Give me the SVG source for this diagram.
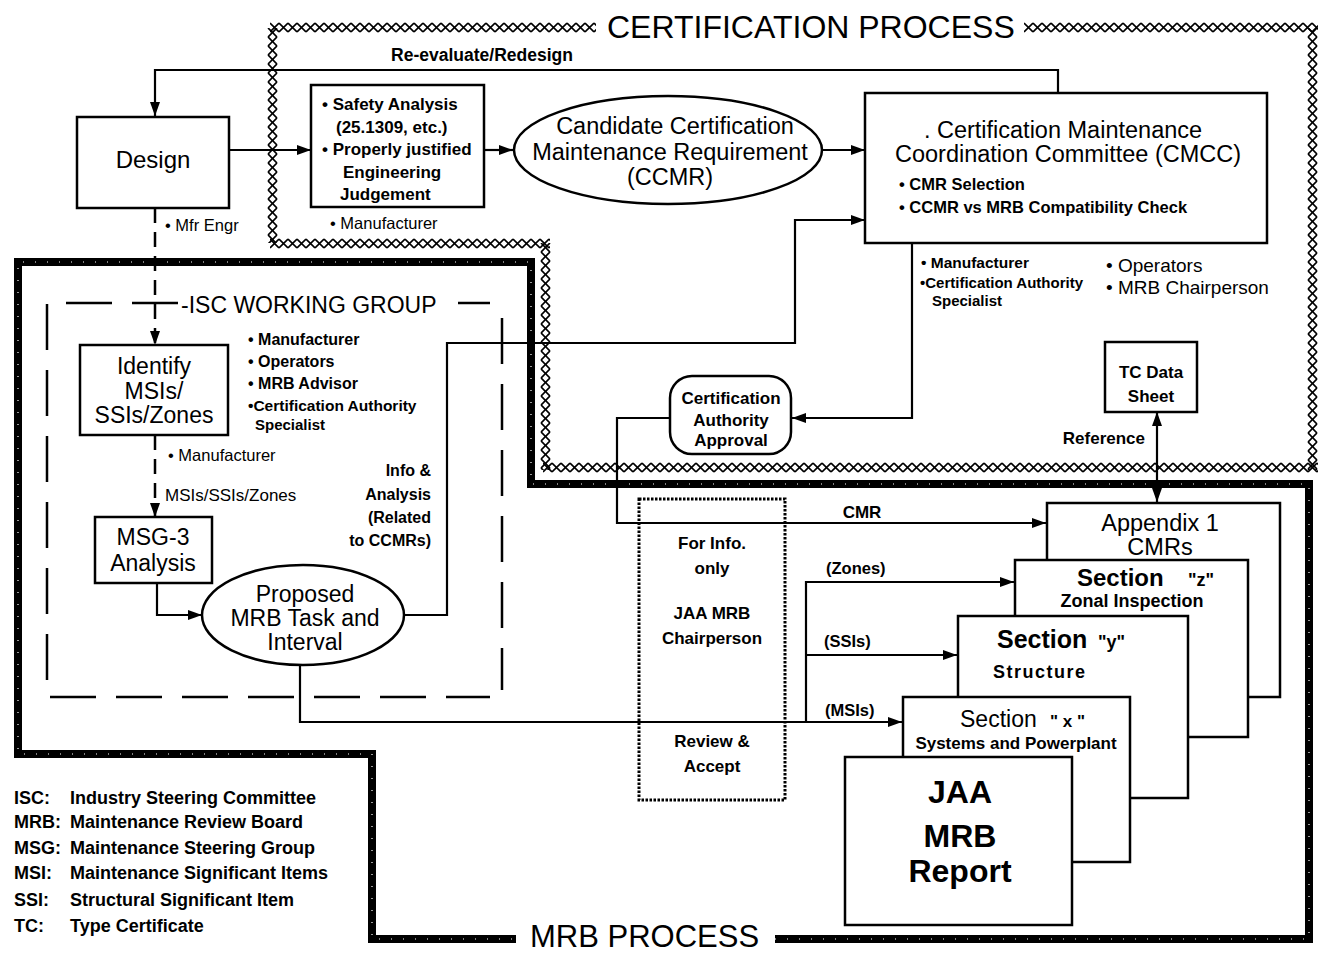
<svg xmlns="http://www.w3.org/2000/svg" width="1325" height="953" viewBox="0 0 1325 953">
<style>
text { font-family: "Liberation Sans", Arial, sans-serif; fill: #000; }
.b { font-weight: bold; }
.m { text-anchor: middle; }
.e { text-anchor: end; }
.box { fill: #fff; stroke: #000; stroke-width: 2.5; }
.ln { fill: none; stroke: #000; stroke-width: 2.2; }
.dash { fill: none; stroke: #000; stroke-width: 2.5; stroke-dasharray: 15 9; }
.isc { fill: none; stroke: #000; stroke-width: 2.5; stroke-dasharray: 46 20; }
.wavy { fill: none; stroke: #000; stroke-width: 3; stroke-dasharray: 2.5 1.5; }
.mrb { fill: none; stroke: #000; stroke-width: 8; }
.speck { fill: none; stroke: #fff; stroke-width: 1.2; stroke-dasharray: 1 11; }
</style>
<defs>
<pattern id="xx" patternUnits="userSpaceOnUse" width="9" height="11">
<path d="M0,1 L9,10 M0,10 L9,1" stroke="#000" stroke-width="1.7" fill="none"/>
</pattern>
<marker id="ah" markerWidth="14" markerHeight="10" refX="14" refY="5" orient="auto-start-reverse" markerUnits="userSpaceOnUse">
<path d="M0,0 L14,5 L0,10 z" fill="#000"/>
</marker>
</defs>
<rect width="1325" height="953" fill="#fff"/>

<g id="certification-border">
<rect transform="translate(270,22)" width="326" height="11" fill="url(#xx)"/>
<rect transform="translate(1024,22)" width="294" height="11" fill="url(#xx)"/>
<rect transform="translate(1318,28) rotate(90)" width="442" height="11" fill="url(#xx)"/>
<rect transform="translate(543,462)" width="775" height="11" fill="url(#xx)"/>
<rect transform="translate(551,243) rotate(90)" width="227" height="11" fill="url(#xx)"/>
<rect transform="translate(270,238)" width="280" height="11" fill="url(#xx)"/>
<rect transform="translate(278,28) rotate(90)" width="215" height="11" fill="url(#xx)"/>
<text x="607" y="38" font-size="32">CERTIFICATION PROCESS</text>
</g>

<g id="mrb-border">
<path class="mrb" d="M775,939 H1309 V484 H531 V262 H18 V754 H372 V939 H516"/>
<path class="speck" d="M775,939 H1309 V484 H531 V262 H18 V754 H372 V939 H516"/>
<text x="530" y="947" font-size="31">MRB PROCESS</text>
</g>

<g id="isc-group">
<path class="isc" d="M178,303 H47 V697 H490"/>
<path class="isc" d="M502,318 V690"/>
<line x1="458" y1="303" x2="490" y2="303" stroke="#000" stroke-width="2.5"/>
<text x="181" y="313" font-size="23">-ISC WORKING GROUP</text>
</g>

<g id="connectors">
<path class="ln" d="M1058,93 V70 H155 V116" marker-end="url(#ah)"/>
<path class="ln" d="M229,150 H311" marker-end="url(#ah)"/>
<path class="ln" d="M484,150 H513" marker-end="url(#ah)"/>
<path class="ln" d="M822,150 H865" marker-end="url(#ah)"/>
<path class="ln" d="M403,615 H447 V343 H795 V220 H865" marker-end="url(#ah)"/>
<path class="ln" d="M912,243 V418 H792" marker-end="url(#ah)"/>
<path class="ln" d="M670,418 H617 V523 H1046" marker-end="url(#ah)"/>
<path class="ln" d="M1157,412 V502" marker-start="url(#ah)" marker-end="url(#ah)"/>
<path class="dash" d="M155,208 V345" marker-end="url(#ah)"/>
<path class="dash" d="M155,435 V517" marker-end="url(#ah)"/>
<path class="ln" d="M157,583 V615 H202" marker-end="url(#ah)"/>
<path class="ln" d="M300,665 V722 H902" marker-end="url(#ah)"/>
<path class="ln" d="M806,722 V582 H1014" marker-end="url(#ah)"/>
<path class="ln" d="M806,655 H957" marker-end="url(#ah)"/>
<text x="482" y="61" font-size="17.5" class="b m">Re-evaluate/Redesign</text>
<text x="165" y="231" font-size="16.5">• Mfr Engr</text>
<text x="168" y="461" font-size="16.5">• Manufacturer</text>
<text x="165" y="501" font-size="17">MSIs/SSIs/Zones</text>
<text x="431" y="476" font-size="16" class="b e">Info &amp;</text>
<text x="431" y="500" font-size="16" class="b e">Analysis</text>
<text x="431" y="523" font-size="16" class="b e">(Related</text>
<text x="431" y="546" font-size="16" class="b e">to CCMRs)</text>
<text x="862" y="518" font-size="17" class="b m">CMR</text>
<text x="826" y="574" font-size="16.5" class="b">(Zones)</text>
<text x="824" y="647" font-size="16.5" class="b">(SSIs)</text>
<text x="825" y="716" font-size="16.5" class="b">(MSIs)</text>
<text x="1145" y="444" font-size="17" class="b e">Reference</text>
</g>

<g id="design">
<rect class="box" x="77" y="117" width="152" height="91"/>
<text x="153" y="168" font-size="24" class="m">Design</text>
</g>

<g id="safety-analysis">
<rect class="box" x="311" y="85" width="173" height="122"/>
<text x="322" y="110" font-size="17" class="b">• Safety Analysis</text>
<text x="336" y="133" font-size="17" class="b">(25.1309, etc.)</text>
<text x="322" y="155" font-size="17" class="b">• Properly justified</text>
<text x="343" y="178" font-size="17" class="b">Engineering</text>
<text x="340" y="200" font-size="17" class="b">Judgement</text>
<text x="330" y="229" font-size="16.5">• Manufacturer</text>
</g>

<g id="ccmr">
<ellipse cx="668" cy="150" rx="154" ry="54" fill="#fff" stroke="#000" stroke-width="2.5"/>
<text x="675" y="134" font-size="23.5" class="m">Candidate Certification</text>
<text x="670" y="160" font-size="23.5" class="m">Maintenance Requirement</text>
<text x="670" y="185" font-size="23.5" class="m">(CCMR)</text>
</g>

<g id="cmcc">
<rect class="box" x="865" y="93" width="402" height="150"/>
<text x="1063" y="138" font-size="23.5" class="m">. Certification Maintenance</text>
<text x="1068" y="162" font-size="23.5" class="m">Coordination Committee (CMCC)</text>
<text x="899" y="190" font-size="16.5" class="b">• CMR Selection</text>
<text x="899" y="213" font-size="16.5" class="b">• CCMR vs MRB Compatibility Check</text>
<text x="921" y="268" font-size="15.5" class="b">• Manufacturer</text>
<text x="920" y="288" font-size="15" class="b">•Certification Authority</text>
<text x="932" y="306" font-size="15" class="b">Specialist</text>
<text x="1106" y="272" font-size="19">• Operators</text>
<text x="1106" y="294" font-size="19">• MRB Chairperson</text>
</g>

<g id="ca-approval">
<rect class="box" x="670" y="376" width="121" height="78" rx="22"/>
<text x="731" y="404" font-size="17" class="b m">Certification</text>
<text x="731" y="426" font-size="17" class="b m">Authority</text>
<text x="731" y="446" font-size="17" class="b m">Approval</text>
</g>

<g id="tc-data-sheet">
<rect class="box" x="1105" y="342" width="92" height="70"/>
<text x="1151" y="378" font-size="17" class="b m">TC Data</text>
<text x="1151" y="402" font-size="17" class="b m">Sheet</text>
</g>

<g id="identify">
<rect class="box" x="80" y="345" width="148" height="90"/>
<text x="154" y="374" font-size="23" class="m">Identify</text>
<text x="154" y="399" font-size="23" class="m">MSIs/</text>
<text x="154" y="423" font-size="23" class="m">SSIs/Zones</text>
<text x="248" y="345" font-size="16" class="b">• Manufacturer</text>
<text x="248" y="367" font-size="16" class="b">• Operators</text>
<text x="248" y="389" font-size="16" class="b">• MRB Advisor</text>
<text x="248" y="411" font-size="15.5" class="b">•Certification Authority</text>
<text x="255" y="430" font-size="15" class="b">Specialist</text>
</g>

<g id="msg3">
<rect class="box" x="95" y="517" width="117" height="66"/>
<text x="153" y="545" font-size="23" class="m">MSG-3</text>
<text x="153" y="571" font-size="23" class="m">Analysis</text>
</g>

<g id="proposed">
<ellipse cx="303" cy="615" rx="101" ry="50" fill="#fff" stroke="#000" stroke-width="2.5"/>
<text x="305" y="602" font-size="23" class="m">Proposed</text>
<text x="305" y="626" font-size="23" class="m">MRB Task and</text>
<text x="305" y="650" font-size="23" class="m">Interval</text>
</g>

<g id="for-info">
<rect class="wavy" x="639" y="499" width="146" height="301"/>
<text x="712" y="549" font-size="17" class="b m">For Info.</text>
<text x="712" y="574" font-size="17" class="b m">only</text>
<text x="712" y="619" font-size="17" class="b m">JAA MRB</text>
<text x="712" y="644" font-size="17" class="b m">Chairperson</text>
<text x="712" y="747" font-size="17" class="b m">Review &amp;</text>
<text x="712" y="772" font-size="17" class="b m">Accept</text>
</g>

<g id="appendix-1">
<rect class="box" x="1047" y="503" width="233" height="194"/>
<text x="1160" y="531" font-size="23.5" class="m">Appendix 1</text>
<text x="1160" y="555" font-size="23.5" class="m">CMRs</text>
</g>

<g id="section-z">
<rect class="box" x="1015" y="560" width="233" height="177"/>
<text x="1077" y="586" font-size="24" class="b">Section</text>
<text x="1188" y="586" font-size="18" class="b">"z"</text>
<text x="1132" y="607" font-size="18" class="b m">Zonal Inspection</text>
</g>

<g id="section-y">
<rect class="box" x="958" y="616" width="230" height="182"/>
<text x="997" y="648" font-size="25" class="b">Section</text>
<text x="1098" y="648" font-size="18" class="b">"y"</text>
<text x="993" y="678" font-size="18" class="b" letter-spacing="1.5">Structure</text>
</g>

<g id="section-x">
<rect class="box" x="903" y="697" width="227" height="165"/>
<text x="960" y="727" font-size="23">Section</text>
<text x="1050" y="727" font-size="17" class="b">" x "</text>
<text x="1016" y="749" font-size="17" class="b m">Systems and Powerplant</text>
</g>

<g id="jaa-mrb-report">
<rect class="box" x="845" y="757" width="227" height="168"/>
<text x="960" y="803" font-size="32" class="b m">JAA</text>
<text x="960" y="847" font-size="32" class="b m">MRB</text>
<text x="960" y="882" font-size="32" class="b m">Report</text>
</g>

<g id="legend">
<text x="14" y="804" font-size="18" class="b">ISC:</text>
<text x="70" y="804" font-size="18" class="b">Industry Steering Committee</text>
<text x="14" y="828" font-size="18" class="b">MRB:</text>
<text x="70" y="828" font-size="18" class="b">Maintenance Review Board</text>
<text x="14" y="854" font-size="18" class="b">MSG:</text>
<text x="70" y="854" font-size="18" class="b">Maintenance Steering Group</text>
<text x="14" y="879" font-size="18" class="b">MSI:</text>
<text x="70" y="879" font-size="18" class="b">Maintenance Significant Items</text>
<text x="14" y="906" font-size="18" class="b">SSI:</text>
<text x="70" y="906" font-size="18" class="b">Structural Significant Item</text>
<text x="14" y="932" font-size="18" class="b">TC:</text>
<text x="70" y="932" font-size="18" class="b">Type Certificate</text>
</g>
</svg>
